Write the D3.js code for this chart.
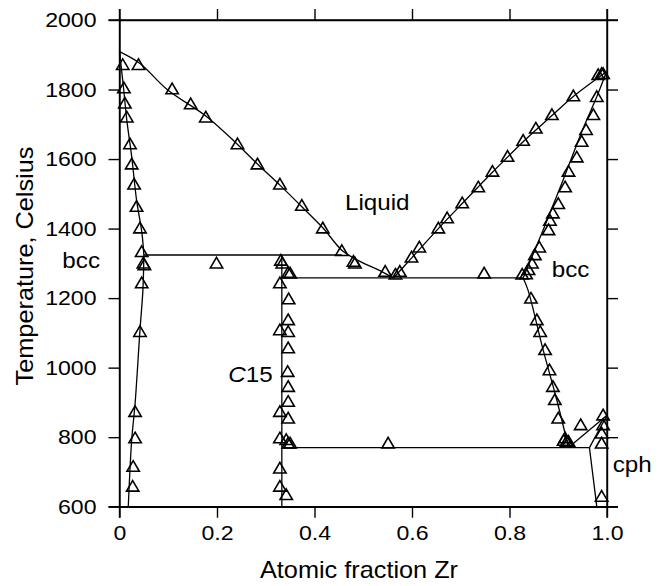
<!DOCTYPE html>
<html>
<head>
<meta charset="utf-8">
<script src="https://cdn.jsdelivr.net/npm/d3@7/dist/d3.min.js"></script>
<style>
  html, body { margin: 0; padding: 0; background: #fff; }
  svg { display: block; }
  text { font-family: "Liberation Sans", Arial, Helvetica, sans-serif; fill: #000; }
</style>
</head>
<body>
<svg id="chart" width="664" height="586"></svg>
<script>
// ---------------- data ----------------
const xTicks = [0, 0.2, 0.4, 0.6, 0.8, 1.0];
const xTickLabels = ["0", "0.2", "0.4", "0.6", "0.8", "1.0"];
const yTicks = [600, 800, 1000, 1200, 1400, 1600, 1800, 2000];
const yTickLabels = ["600", "800", "1000", "1200", "1400", "1600", "1800", "2000"];

// phase boundary lines: [atomic fraction Zr, temperature C]
const liquidusLeft = [[0,1909],[0.042,1875],[0.097,1801],[0.179,1722],[0.240,1645],[0.285,1583],[0.329,1525],[0.374,1463],[0.418,1401],[0.456,1338],[0.490,1308],[0.530,1282],[0.562,1258]];
const liquidusRight = [[0.562,1258],[0.599,1315],[0.654,1400],[0.703,1472],[0.765,1562],[0.828,1650],[0.887,1725],[0.931,1780],[0.999,1851]];
const solidusLeft = [[0,1909],[0.008,1808],[0.015,1712],[0.025,1607],[0.035,1482],[0.046,1387],[0.050,1324]];
const solvusLeft = [[0.050,1324],[0.048,1223],[0.042,1108],[0.032,897],[0.025,792],[0.018,600]];
const peritecticLine = [[0.050,1324],[0.456,1324]];
const c15Line = [[0.333,1324],[0.333,600]];
const eutecticLine = [[0.333,1258],[0.828,1258]];
const solidusRight = [[0.828,1258],[0.869,1396],[0.910,1540],[0.951,1688],[0.979,1779],[0.999,1851]];
const solvusRight = [[0.828,1258],[0.838,1223],[0.869,1051],[0.897,907],[0.921,770]];
const eutectoidLine = [[0.333,770],[0.964,770]];
const bccTransus = [[0.921,770],[1.0,863]];
const cphTransus = [[0.964,770],[1.0,863]];
const cphSolvus = [[0.964,770],[0.979,600]];

const boundaries = [liquidusLeft, liquidusRight, solidusLeft, solvusLeft, peritecticLine, c15Line,
  eutecticLine, solidusRight, solvusRight, eutectoidLine, bccTransus, cphTransus, cphSolvus];

// experimental points (triangles)
const pointsLiquidus = [[0.039,1871],[0.108,1801],[0.146,1758],[0.177,1720],[0.242,1643],[0.283,1585],[0.329,1527],[0.374,1466],[0.417,1401],[0.456,1336],[0.480,1305],[0.483,1300],[0.545,1276],[0.566,1268],[0.575,1276],
  [0.599,1317],[0.615,1346],[0.654,1401],[0.672,1430],[0.703,1473],[0.736,1519],[0.765,1564],[0.796,1607],[0.828,1653],[0.854,1688],[0.887,1727],[0.931,1781],[0.982,1842],[0.992,1845]];
const pointsCrSide = [[0.0066,1871],[0.009,1804],[0.011,1760],[0.015,1720],[0.0215,1643],[0.025,1585],[0.030,1527],[0.035,1463],[0.042,1401],[0.0455,1333],[0.049,1300],[0.051,1295],[0.0455,1243],[0.042,1103],[0.032,873],[0.032,797],[0.028,715],[0.027,658]];
const pointsMiddle = [[0.199,1300],[0.748,1271],[0.551,782]];
const pointsC15 = [[0.331,1308],[0.334,1300],[0.346,1273],[0.350,1271],[0.329,1243],[0.347,1197],[0.346,1137],[0.329,1108],[0.346,1103],[0.346,1056],[0.345,988],[0.346,945],[0.346,902],[0.329,873],[0.346,854],[0.329,797],[0.342,792],[0.346,782],[0.350,782],[0.329,710],[0.329,658],[0.342,634]];
const pointsZrBcc = [[0.826,1268],[0.834,1269],[0.839,1281],[0.846,1300],[0.852,1324],[0.861,1346],[0.880,1396],[0.883,1423],[0.889,1444],[0.900,1471],[0.914,1519],[0.921,1564],[0.938,1605],[0.948,1650],[0.957,1684],[0.972,1727],[0.979,1779],[0.989,1845],
  [0.844,1199],[0.856,1137],[0.863,1103],[0.873,1051],[0.882,993],[0.889,945],[0.893,907],[0.900,854],[0.914,797],[0.917,787],[0.921,787],[0.911,790]];
const pointsZrCph = [[0.946,835],[0.992,863],[0.992,835],[0.989,811],[0.989,782],[0.989,629]];

const allPoints = [].concat(pointsLiquidus, pointsCrSide, pointsMiddle, pointsC15, pointsZrBcc, pointsZrCph);

// region labels [text, x, T, anchor]
const regionLabels = [
  ["Liquid", 0.4626, 1453, "start"],
  ["bcc", -0.040, 1287, "end"],
  ["bcc", 0.8866, 1262, "start"],
  ["C15", 0.223, 959, "start"],
  ["cph", 1.0117, 700, "start"]
];

// ---------------- drawing ----------------
const svg = d3.select("#chart");
const pL = 119.5, pR = 607, pT = 20, pB = 506.7;
const x = d3.scaleLinear().domain([0, 1]).range([pL, pR]);
const y = d3.scaleLinear().domain([600, 2000]).range([pB, pT]);
const SX = 1.1;

function styleAxis(g) {
  g.select(".domain").attr("stroke", "#000").attr("stroke-width", 1.4);
  g.selectAll(".tick line").attr("stroke", "#000").attr("stroke-width", 1.4);
}

// bottom axis
const gB = svg.append("g").attr("transform", `translate(0,${pB})`)
  .call(d3.axisBottom(x).tickValues(xTicks).tickFormat((d, i) => xTickLabels[i]).tickSize(11).tickSizeOuter(0).tickPadding(7));
styleAxis(gB);
gB.selectAll("text").attr("font-size", 21).attr("transform", `scale(${SX},1)`)
  .style("font-family", "Liberation Sans, Arial, sans-serif").attr("fill", "#000");

// top axis
const gT = svg.append("g").attr("transform", `translate(0,${pT})`)
  .call(d3.axisTop(x).tickValues(xTicks).tickFormat("").tickSize(11).tickSizeOuter(0));
styleAxis(gT);

// left axis
const gL = svg.append("g").attr("transform", `translate(${pL},0)`)
  .call(d3.axisLeft(y).tickValues(yTicks).tickFormat((d, i) => yTickLabels[i]).tickSize(11).tickSizeOuter(0).tickPadding(10));
styleAxis(gL);
gL.selectAll("text").attr("font-size", 21).attr("transform", `scale(${SX},1)`)
  .style("font-family", "Liberation Sans, Arial, sans-serif").attr("fill", "#000")
  .attr("x", -23 / SX);

// right axis
const gR = svg.append("g").attr("transform", `translate(${pR},0)`)
  .call(d3.axisRight(y).tickValues(yTicks).tickFormat("").tickSize(11).tickSizeOuter(0));
styleAxis(gR);

// frame lines extended through the corners
const frame = svg.append("g").attr("stroke", "#000").attr("stroke-width", 1.4);
frame.append("line").attr("x1", pL).attr("x2", pL).attr("y1", pT - 11).attr("y2", pB + 11);
frame.append("line").attr("x1", pR).attr("x2", pR).attr("y1", pT - 11).attr("y2", pB + 11);
frame.append("line").attr("x1", pL - 11).attr("x2", pR + 11).attr("y1", pT).attr("y2", pT);
frame.append("line").attr("x1", pL - 11).attr("x2", pR + 11).attr("y1", pB).attr("y2", pB);

// phase boundaries
const line = d3.line().x(d => x(d[0])).y(d => y(d[1])).curve(d3.curveCatmullRom.alpha(0.5));
svg.append("g").selectAll("path").data(boundaries).join("path")
  .attr("d", line).attr("fill", "none").attr("stroke", "#000").attr("stroke-width", 1.3);

// triangles
const tri = "M0,-6 L6.2,4.6 L-6.2,4.6 Z";
svg.append("g").selectAll("path").data(allPoints).join("path")
  .attr("d", tri).attr("transform", d => `translate(${x(d[0])},${y(d[1])})`)
  .attr("fill", "none").attr("stroke", "#000").attr("stroke-width", 1.6).attr("stroke-linejoin", "miter");

// region labels
regionLabels.forEach(([t, lx, ly, anchor]) => {
  const txt = svg.append("text").attr("font-size", 22).attr("text-anchor", anchor)
    .attr("transform", `translate(${x(lx)},${y(ly)}) scale(${SX},1)`);
  if (t === "C15") {
    txt.append("tspan").attr("font-style", "italic").text("C");
    txt.append("tspan").text("15");
  } else {
    txt.text(t);
  }
});

// axis titles
svg.append("text").attr("font-size", 23).attr("text-anchor", "middle")
  .attr("transform", `translate(359,578) scale(${SX},1)`).text("Atomic fraction Zr");
svg.append("text").attr("font-size", 23).attr("text-anchor", "middle")
  .attr("transform", `translate(33,266) rotate(-90) scale(${SX},1)`).text("Temperature, Celsius");
</script>
</body>
</html>
